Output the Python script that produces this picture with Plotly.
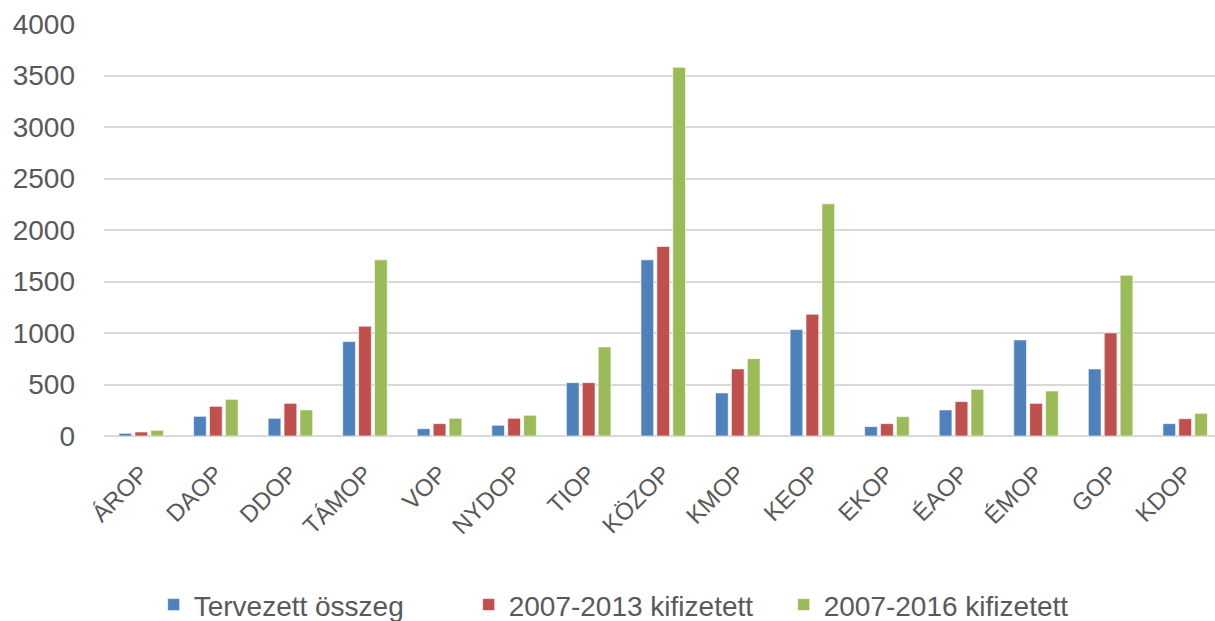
import plotly.graph_objects as go

# Operational programmes
programmes = ["ÁROP", "DAOP", "DDOP", "TÁMOP", "VOP", "NYDOP", "TIOP", "KÖZOP",
              "KMOP", "KEOP", "EKOP", "ÉAOP", "ÉMOP", "GOP", "KDOP"]

# Planned amount and payments (values as plotted)
tervezett = [26, 191, 172, 917, 71, 104, 518, 1710, 418, 1033, 91, 253, 933, 651, 120]
kifizetett_2013 = [39, 288, 317, 1066, 120, 172, 518, 1840, 651, 1182, 120, 334, 317, 1001, 168]
kifizetett_2016 = [55, 356, 253, 1710, 172, 201, 865, 3579, 751, 2254, 188, 453, 437, 1561, 220]

series = [
    ("Tervezett összeg", tervezett, "#4F81BD"),
    ("2007-2013 kifizetett", kifizetett_2013, "#C0504D"),
    ("2007-2016 kifizetett", kifizetett_2016, "#9BBB59"),
]

fig = go.Figure()
for name, vals, color in series:
    fig.add_trace(go.Bar(
        x=programmes, y=vals, name=name,
        marker=dict(color=color, line=dict(color="rgba(255,255,255,0.6)", width=1)),
    ))

font_family = "Liberation Sans, Arial, sans-serif"
fig.update_layout(
    width=1215, height=621,
    margin=dict(l=104, r=0, t=24, b=185, autoexpand=False),
    paper_bgcolor="white", plot_bgcolor="white",
    barmode="group", bargap=0.36, bargroupgap=0.2,
    font=dict(family=font_family, color="#595959"),
    showlegend=True,
    legend=dict(orientation="h", x=0.47, xanchor="center", y=-0.41, yanchor="middle",
                font=dict(size=28, color="#595959"), itemwidth=30,
                entrywidth=270, entrywidthmode="pixels",
                traceorder="normal"),
    xaxis=dict(
        range=[-0.5, 14.4], tickangle=-45, tickfont=dict(size=24, color="#595959"),
        showgrid=False, showline=False, ticks="", automargin=False,
        ticklabelstandoff=18,
    ),
    yaxis=dict(
        range=[0, 4000], tickvals=[0, 500, 1000, 1500, 2000, 2500, 3000, 3500, 4000],
        tickfont=dict(size=28, color="#595959"),
        showgrid=True, gridcolor="#D9D9D9", gridwidth=1.5,
        zeroline=True, zerolinecolor="#D9D9D9", zerolinewidth=1.5,
        showline=False, ticks="", ticklabelstandoff=28, automargin=False,
    ),
)

fig.write_html("out.html")
